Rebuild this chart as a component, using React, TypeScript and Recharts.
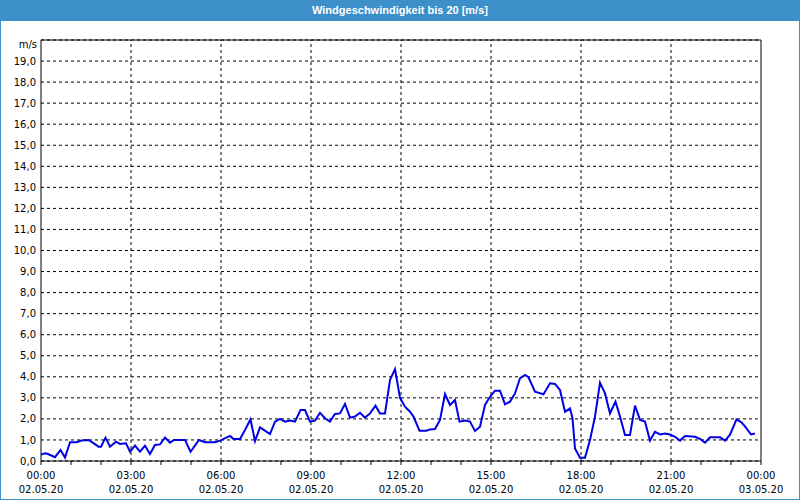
// Windgeschwindigkeit über einen Tag (Recharts LineChart)
import React from "react";
import {
  LineChart,
  Line,
  XAxis,
  YAxis,
  CartesianGrid,
  ReferenceLine,
  ReferenceArea,
} from "recharts";

// Minuten seit 00:00 am 02.05.20
const minutes = [
  0, 8, 14, 28, 39, 48, 58, 71, 81, 95, 105, 115, 120, 129, 138, 150, 158, 170,
  178, 188, 198, 208, 218, 228, 238, 248, 258, 266, 288, 299, 316, 328, 348,
  358, 378, 385, 398, 408, 419, 428, 438, 458, 468, 478, 488, 498, 508, 519,
  528, 538, 548, 558, 568, 578, 588, 598, 608, 618, 628, 638, 648, 658, 669,
  678, 688, 698, 708, 718, 728, 738, 745, 757, 771, 778, 788, 798, 808, 818,
  828, 837, 848, 858, 868, 878, 888, 898, 908, 918, 928, 938, 948, 958, 968,
  975, 988, 1005, 1018, 1028, 1038, 1048, 1058, 1063, 1068, 1078, 1088, 1098,
  1108, 1118, 1128, 1138, 1149, 1158, 1168, 1178, 1188, 1198, 1208, 1218, 1228,
  1238, 1248, 1258, 1268, 1278, 1288, 1308, 1318, 1328, 1338, 1358, 1368, 1378,
  1391, 1401, 1411, 1420, 1428,
];

// m/s
const speeds = [
  0.3, 0.37, 0.33, 0.18, 0.52, 0.16, 0.89, 0.89, 0.97, 1.0, 0.85, 0.68, 0.68,
  1.11, 0.68, 0.92, 0.81, 0.84, 0.44, 0.73, 0.44, 0.73, 0.33, 0.76, 0.79, 1.11,
  0.87, 1.0, 1.0, 0.44, 1.0, 0.89, 0.89, 0.97, 1.19, 1.05, 1.05, 1.47, 1.98,
  0.95, 1.6, 1.28, 1.87, 2.0, 1.87, 1.92, 1.87, 2.42, 2.42, 1.87, 1.92, 2.29,
  2.03, 1.87, 2.23, 2.26, 2.71, 2.06, 2.11, 2.29, 2.06, 2.26, 2.63, 2.26, 2.26,
  3.85, 4.37, 3.0, 2.58, 2.34, 2.11, 1.44, 1.44, 1.5, 1.52, 1.95, 3.18, 2.66,
  2.9, 1.87, 1.92, 1.87, 1.43, 1.63, 2.66, 3.05, 3.34, 3.34, 2.69, 2.82, 3.21,
  3.93, 4.09, 3.98, 3.29, 3.17, 3.69, 3.66, 3.37, 2.34, 2.5, 2.03, 0.6, 0.16,
  0.16, 1.0, 2.11, 3.72, 3.21, 2.26, 2.82, 2.11, 1.24, 1.24, 2.63, 1.95, 1.87,
  0.97, 1.39, 1.26, 1.31, 1.26, 1.15, 0.97, 1.19, 1.15, 1.05, 0.87, 1.13, 1.13,
  0.97, 1.25, 1.98, 1.84, 1.55, 1.26, 1.31,
];

const hourTicks = [
  0, 60, 120, 180, 240, 300, 360, 420, 480, 540, 600, 660, 720, 780, 840, 900,
  960, 1020, 1080, 1140, 1200, 1260, 1320, 1380, 1440,
];
const majorTicks = [0, 180, 360, 540, 720, 900, 1080, 1260, 1440];
const timeLabels = ["00:00", "03:00", "06:00", "09:00", "12:00", "15:00", "18:00", "21:00", "00:00"];
const dateLabels = ["02.05.20", "02.05.20", "02.05.20", "02.05.20", "02.05.20", "02.05.20", "02.05.20", "02.05.20", "03.05.20"];
const yTicks = [0, 1, 2, 3, 4, 5, 6, 7, 8, 9, 10, 11, 12, 13, 14, 15, 16, 17, 18, 19];

const data = minutes.map((m, i) => ({ t: m, v: speeds[i] }));

const FONT = "DejaVu Sans";
const BLUE = "#3c8fc8";

function TimeTick(props: any) {
  const { x, y, payload } = props;
  const idx = majorTicks.indexOf(payload.value);
  if (idx < 0) return null;
  return (
    <g>
      <text x={x} y={y + 14} textAnchor="middle" fontFamily={FONT} fontSize={10} fill="#000">
        {timeLabels[idx]}
      </text>
      <text x={x} y={y + 28} textAnchor="middle" fontFamily={FONT} fontSize={10} fill="#000">
        {dateLabels[idx]}
      </text>
    </g>
  );
}

export default function App() {
  return (
    <div
      style={{
        position: "fixed",
        top: 0,
        left: 0,
        width: 800,
        height: 500,
        background: "#fff",
        boxSizing: "border-box",
        border: `1px solid ${BLUE}`,
        overflow: "hidden",
      }}
    >
      <div
        style={{
          position: "absolute",
          top: -1,
          left: -1,
          width: 800,
          height: 21,
          background: BLUE,
          color: "#fff",
          fontFamily: "Liberation Sans",
          fontWeight: "bold",
          fontSize: 11,
          lineHeight: "21px",
          textAlign: "center",
        }}
      >
        Windgeschwindigkeit bis 20 [m/s]
      </div>
      <div
        style={{
          position: "absolute",
          top: 38,
          left: 0,
          width: 36,
          textAlign: "right",
          fontFamily: FONT,
          fontSize: 10,
          color: "#000",
        }}
      >
        m/s
      </div>
      <div style={{ position: "absolute", top: -1, left: -1 }}>
        <LineChart
          width={800}
          height={500}
          data={data}
          margin={{ top: 40, right: 39, bottom: 0, left: 0 }}
        >
          <CartesianGrid vertical={false} stroke="#000" strokeDasharray="3 3" />
          {majorTicks.slice(1, -1).map((t) => (
            <ReferenceLine key={t} x={t} stroke="#000" strokeDasharray="3 3" />
          ))}
          <XAxis
            dataKey="t"
            type="number"
            domain={[0, 1440]}
            ticks={hourTicks}
            interval={0}
            height={39}
            tickSize={4}
            tickMargin={0}
            stroke="#000"
            axisLine={false}
            tick={<TimeTick />}
          />
          <YAxis
            type="number"
            domain={[0, 20]}
            ticks={yTicks}
            interval={0}
            width={41}
            tickLine={false}
            tickSize={0}
            tickMargin={5}
            axisLine={false}
            tick={{ fontFamily: FONT, fontSize: 10, fill: "#000", dy: 0 }}
            tickFormatter={(v: number) => v.toFixed(1).replace(".", ",")}
          />
          <ReferenceArea x1={0} x2={1440} y1={0} y2={20} stroke="#000" strokeWidth={1} fill="none" fillOpacity={0} />
          <Line
            type="linear"
            dataKey="v"
            stroke="#0000e6"
            strokeWidth={2}
            dot={false}
            isAnimationActive={false}
          />
        </LineChart>
      </div>
    </div>
  );
}
